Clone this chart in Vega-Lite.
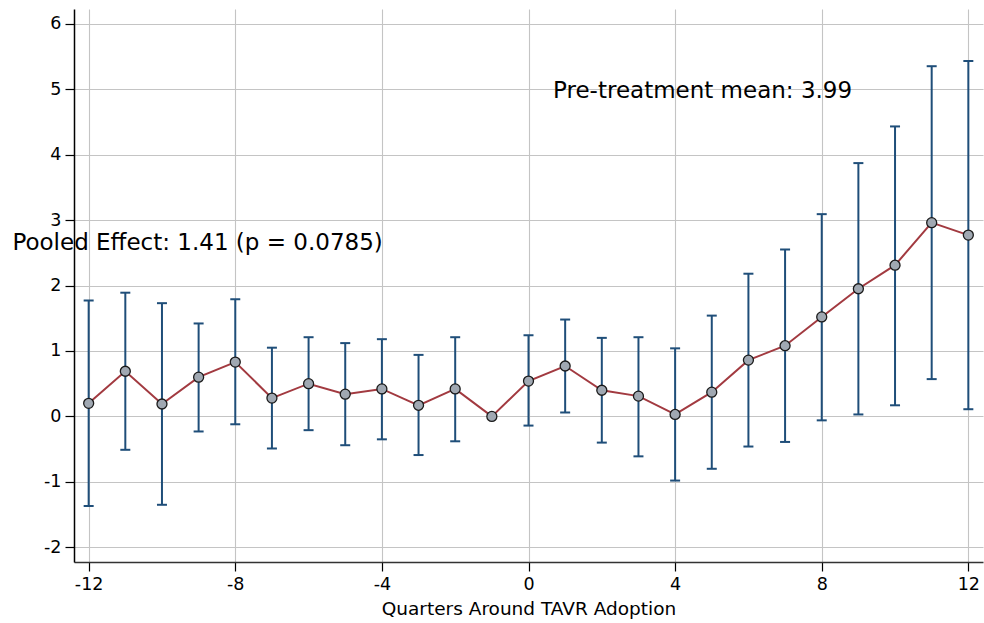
{
  "$schema": "https://vega.github.io/schema/vega-lite/v6.json",
  "autosize": {"type": "none"},
  "width": 909,
  "height": 553,
  "padding": {"left": 74, "top": 9, "right": 1, "bottom": 61},
  "background": "white",
  "config": {
    "view": {"stroke": null},
    "font": "DejaVu Sans",
    "axis": {
      "labelFont": "DejaVu Sans",
      "labelFontSize": 17.5,
      "labelColor": "black",
      "labelExpr": "datum.value + ''",
      "titleFont": "DejaVu Sans",
      "titleFontSize": 18.5,
      "titleFontWeight": "normal",
      "titleColor": "black",
      "domainColor": "black",
      "domainWidth": 1.5,
      "tickColor": "black",
      "tickSize": 9,
      "tickWidth": 1.2,
      "gridColor": "#c4c4c4",
      "gridWidth": 1.1
    }
  },
  "datasets": {
    "est": [
      {"q": -12, "est": 0.20, "lo": -1.37, "hi": 1.77},
      {"q": -11, "est": 0.69, "lo": -0.51, "hi": 1.89},
      {"q": -10, "est": 0.19, "lo": -1.35, "hi": 1.73},
      {"q": -9, "est": 0.60, "lo": -0.23, "hi": 1.42},
      {"q": -8, "est": 0.83, "lo": -0.12, "hi": 1.79},
      {"q": -7, "est": 0.28, "lo": -0.49, "hi": 1.05},
      {"q": -6, "est": 0.50, "lo": -0.21, "hi": 1.21},
      {"q": -5, "est": 0.34, "lo": -0.44, "hi": 1.12},
      {"q": -4, "est": 0.42, "lo": -0.35, "hi": 1.18},
      {"q": -3, "est": 0.17, "lo": -0.59, "hi": 0.94},
      {"q": -2, "est": 0.42, "lo": -0.38, "hi": 1.21},
      {"q": -1, "est": 0.00, "lo": null, "hi": null},
      {"q": 0, "est": 0.54, "lo": -0.14, "hi": 1.24},
      {"q": 1, "est": 0.77, "lo": 0.06, "hi": 1.48},
      {"q": 2, "est": 0.40, "lo": -0.40, "hi": 1.20},
      {"q": 3, "est": 0.31, "lo": -0.61, "hi": 1.21},
      {"q": 4, "est": 0.03, "lo": -0.98, "hi": 1.04},
      {"q": 5, "est": 0.37, "lo": -0.80, "hi": 1.54},
      {"q": 6, "est": 0.86, "lo": -0.46, "hi": 2.18},
      {"q": 7, "est": 1.08, "lo": -0.39, "hi": 2.55},
      {"q": 8, "est": 1.52, "lo": -0.06, "hi": 3.09},
      {"q": 9, "est": 1.95, "lo": 0.03, "hi": 3.87},
      {"q": 10, "est": 2.31, "lo": 0.17, "hi": 4.43},
      {"q": 11, "est": 2.96, "lo": 0.57, "hi": 5.35},
      {"q": 12, "est": 2.77, "lo": 0.11, "hi": 5.43}
    ],
    "notes": [
      {"x": -14.08, "y": 2.54, "label": "Pooled Effect: 1.41 (p = 0.0785)"},
      {"x": 0.67, "y": 4.865, "label": "Pre-treatment mean: 3.99"}
    ]
  },
  "layer": [
    {
      "data": {"name": "est"},
      "mark": {"type": "point", "opacity": 0},
      "encoding": {
        "x": {
          "field": "q",
          "type": "quantitative",
          "scale": {"domain": [-12.4, 12.4], "nice": false, "zero": false},
          "axis": {"values": [-12, -8, -4, 0, 4, 8, 12], "title": "Quarters Around TAVR Adoption", "labelPadding": 4, "titlePadding": 7, "grid": true, "domainColor": "#333333"}
        },
        "y": {
          "field": "est",
          "type": "quantitative",
          "scale": {"domain": [-2.224, 6.224], "nice": false, "zero": false},
          "axis": {"values": [-2, -1, 0, 1, 2, 3, 4, 5, 6], "title": null, "labelPadding": 4, "grid": true}
        }
      }
    },
    {
      "mark": {"type": "rule", "color": "black", "strokeWidth": 1.5},
      "encoding": {"y": {"datum": 0}}
    },
    {
      "mark": {"type": "rule", "color": "black", "strokeWidth": 1.4, "strokeDash": [8, 4.5]},
      "encoding": {"y": {"datum": 1.41}}
    },
    {
      "mark": {"type": "rule", "color": "black", "strokeWidth": 1.4, "strokeDash": [8, 4.5]},
      "encoding": {"x": {"datum": -0.5}}
    },
    {
      "data": {"name": "est"},
      "transform": [{"filter": "datum.lo != null"}],
      "layer": [
        {
          "mark": {"type": "rule", "color": "#1f4e79", "strokeWidth": 2},
          "encoding": {
            "x": {"field": "q", "type": "quantitative"},
            "y": {"field": "lo", "type": "quantitative"},
            "y2": {"field": "hi"}
          }
        },
        {
          "mark": {"type": "tick", "orient": "horizontal", "color": "#1f4e79", "size": 10, "thickness": 2, "opacity": 1},
          "encoding": {
            "x": {"field": "q", "type": "quantitative"},
            "y": {"field": "lo", "type": "quantitative"}
          }
        },
        {
          "mark": {"type": "tick", "orient": "horizontal", "color": "#1f4e79", "size": 10, "thickness": 2, "opacity": 1},
          "encoding": {
            "x": {"field": "q", "type": "quantitative"},
            "y": {"field": "hi", "type": "quantitative"}
          }
        }
      ]
    },
    {
      "data": {"name": "est"},
      "mark": {"type": "line", "color": "#a23a40", "strokeWidth": 2},
      "encoding": {
        "x": {"field": "q", "type": "quantitative"},
        "y": {"field": "est", "type": "quantitative"}
      }
    },
    {
      "data": {"name": "est"},
      "mark": {"type": "point", "filled": true, "fill": "#a0a8b2", "stroke": "#1a1a1a", "strokeWidth": 1.3, "size": 100, "opacity": 1},
      "encoding": {
        "x": {"field": "q", "type": "quantitative"},
        "y": {"field": "est", "type": "quantitative"}
      }
    },
    {
      "data": {"name": "notes"},
      "mark": {"type": "text", "align": "left", "baseline": "alphabetic", "fontSize": 23, "font": "DejaVu Sans", "color": "black"},
      "encoding": {
        "x": {"field": "x", "type": "quantitative"},
        "y": {"field": "y", "type": "quantitative"},
        "text": {"field": "label"}
      }
    }
  ]
}
